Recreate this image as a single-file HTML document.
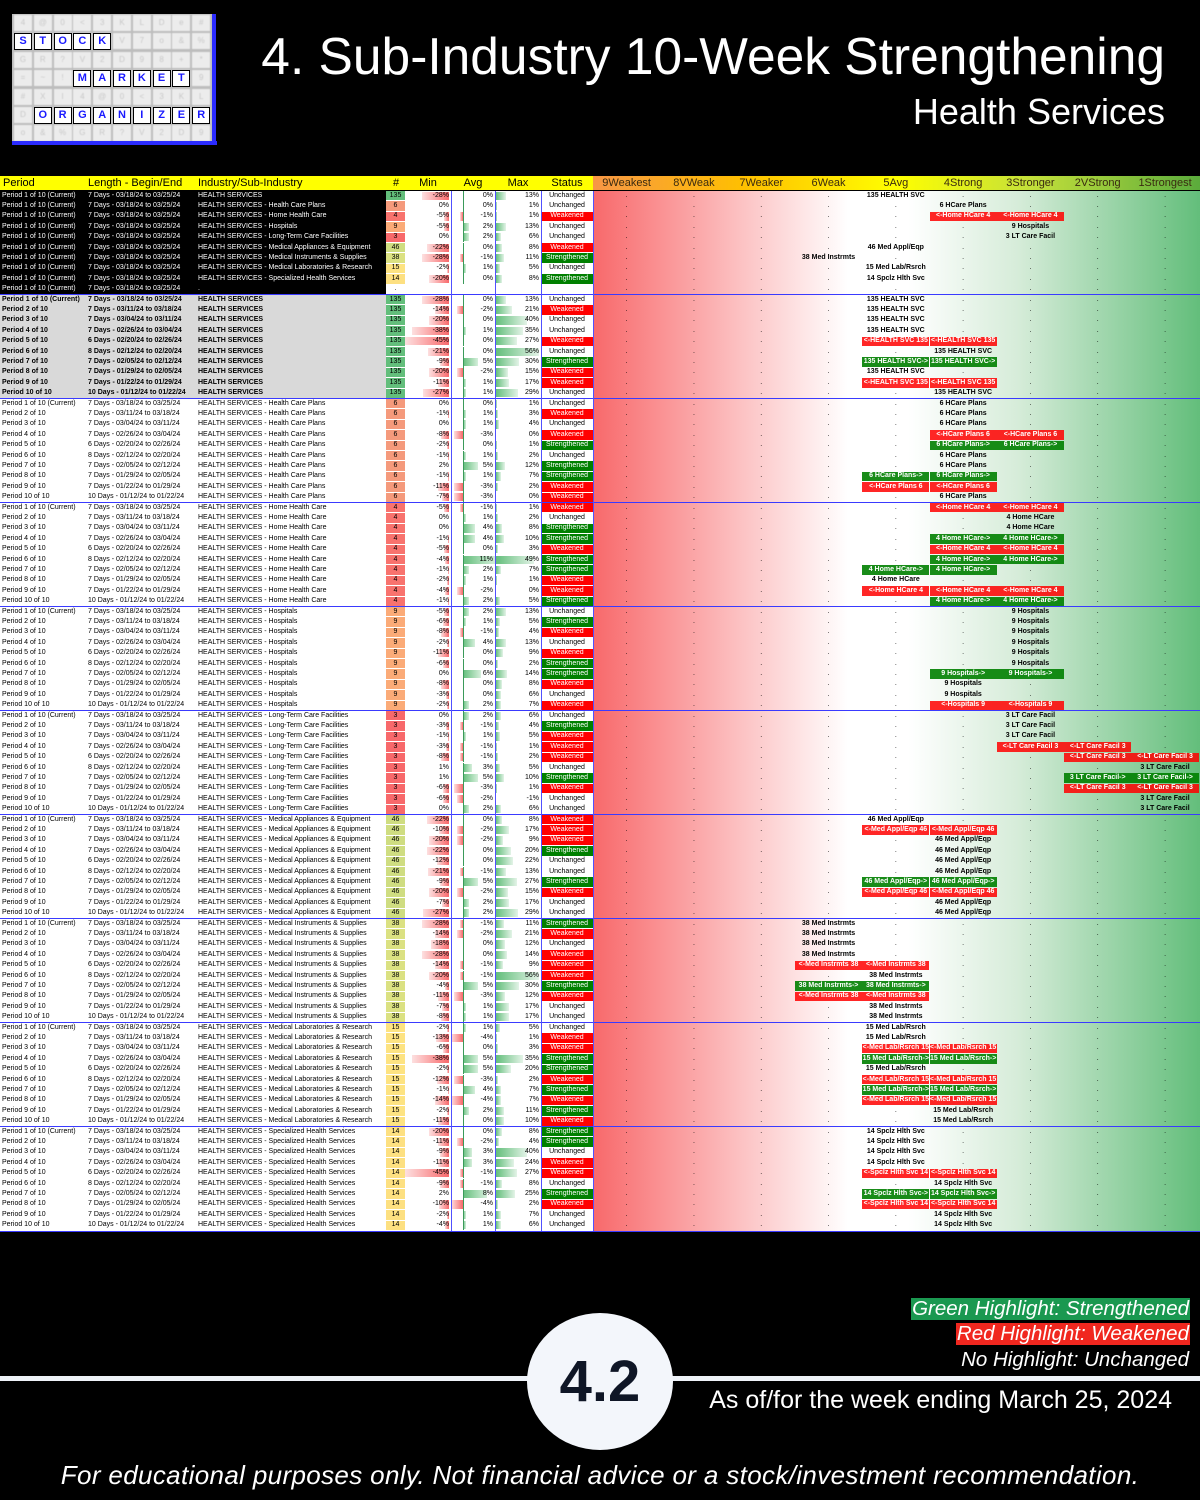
<!DOCTYPE html>
<html><head><meta charset="utf-8">
<style>
html,body{margin:0;padding:0;background:#000;}
#page{position:relative;width:1200px;height:1500px;background:#000;overflow:hidden;font-family:"Liberation Sans",sans-serif;}
.abs{position:absolute;}
.t{position:absolute;font-size:7px;line-height:10.4px;white-space:nowrap;}
.hd{position:absolute;font-size:11px;line-height:14px;white-space:nowrap;color:#000;}
.logo-cell{position:absolute;width:18px;height:16px;background:#ececec;color:#c8c8c8;font-size:8px;text-align:center;line-height:16px;filter:blur(0.6px);}
.lw{position:absolute;width:16px;height:15px;background:#fff;border:1px solid #000;color:#1a1aff;font-weight:bold;font-size:11px;text-align:center;line-height:15px;}
</style></head>
<body>
<div id="page">
  <div id="logo" class="abs" style="left:12px;top:14px;width:200px;height:130px;background:#bdbdbd;"></div>
  <div class="abs" style="left:212px;top:14px;width:4px;height:131px;background:#2b2bff;"></div>
  <div class="abs" style="left:12px;top:141px;width:205px;height:4px;background:#2b2bff;"></div>
  <div class="abs" style="right:35px;top:26px;color:#fff;font-size:51.5px;line-height:60px;white-space:nowrap;">4. Sub-Industry 10-Week Strengthening</div>
  <div class="abs" style="right:35px;top:91px;color:#fff;font-size:36px;line-height:42px;white-space:nowrap;">Health Services</div>
  <div id="table" class="abs" style="left:0;top:175px;width:1200px;height:1060px;"></div>
  <div class="abs" style="right:10px;top:1298px;background:#1a9850;color:#fff;font-style:italic;font-size:20.5px;line-height:22px;padding:0 1px;">Green Highlight: Strengthened</div>
  <div class="abs" style="right:10px;top:1323px;background:#f0271f;color:#fff;font-style:italic;font-size:20.5px;line-height:22px;padding:0 1px;">Red Highlight: Weakened</div>
  <div class="abs" style="right:10px;top:1349px;color:#fff;font-style:italic;font-size:20.5px;line-height:22px;padding:0 1px;">No Highlight: Unchanged</div>
  <div class="abs" style="left:0;top:1376px;width:1200px;height:5px;background:#eef2f8;"></div>
  <div class="abs" style="left:527px;top:1313px;width:146px;height:137px;border-radius:50%;background:#f3f6fb;text-align:center;line-height:137px;font-size:58px;font-weight:bold;color:#0f1626;">4.2</div>
  <div class="abs" style="right:28px;top:1385px;color:#fff;font-size:25px;line-height:30px;white-space:nowrap;">As of/for the week ending March 25, 2024</div>
  <div class="abs" style="left:0;width:1200px;top:1459px;text-align:center;color:#fff;font-style:italic;font-size:26px;letter-spacing:0.35px;line-height:32px;white-space:nowrap;">For educational purposes only. Not financial advice or a stock/investment recommendation.</div>
</div>
<script>
// ---- data ----
const periodLabels = ["Period 1 of 10 (Current)","Period 2 of 10","Period 3 of 10","Period 4 of 10","Period 5 of 10","Period 6 of 10","Period 7 of 10","Period 8 of 10","Period 9 of 10","Period 10 of 10"];
const lengthLabels = ["7 Days - 03/18/24 to 03/25/24","7 Days - 03/11/24 to 03/18/24","7 Days - 03/04/24 to 03/11/24","7 Days - 02/26/24 to 03/04/24","6 Days - 02/20/24 to 02/26/24","8 Days - 02/12/24 to 02/20/24","7 Days - 02/05/24 to 02/12/24","7 Days - 01/29/24 to 02/05/24","7 Days - 01/22/24 to 01/29/24","10 Days - 01/12/24 to 01/22/24"];
const industryNames = ["HEALTH SERVICES","HEALTH SERVICES - Health Care Plans","HEALTH SERVICES - Home Health Care","HEALTH SERVICES - Hospitals","HEALTH SERVICES - Long-Term Care Facilities","HEALTH SERVICES - Medical Appliances & Equipment","HEALTH SERVICES - Medical Instruments & Supplies","HEALTH SERVICES - Medical Laboratories & Research","HEALTH SERVICES - Specialized Health Services"];
const shortNames = ["HEALTH SVC","HCare Plans","Home HCare","Hospitals","LT Care Facil","Med Appl/Eqp","Med Instrmts","Med Lab/Rsrch","Spclz Hlth Svc"];
const counts = [135,6,4,9,3,46,38,15,14];
const countColors = ["#63be7b","#f59a7c","#f8736e","#fbab78","#f8696b","#cfdd81","#dbe182","#fde382","#fde081"];
const ratingHeaders = ["9Weakest","8VWeak","7Weaker","6Weak","5Avg","4Strong","3Stronger","2VStrong","1Strongest"];
const mins = [-28,0,-5,-5,0,-22,-28,-2,-20,null,
 -28,-14,-20,-38,-45,-21,-9,-20,-11,-27,
 0,-1,0,-8,-2,-1,2,-1,-11,-7,
 -5,0,0,-1,-5,-4,-1,-2,-4,-1,
 -5,-6,-8,-2,-11,-6,0,-8,-3,-2,
 0,-3,-1,-3,-8,1,1,-6,-6,0,
 -22,-10,-20,-22,-12,-21,-9,-20,-7,-27,
 -28,-14,-18,-28,-14,-20,-4,-11,-7,-8,
 -2,-13,-6,-38,-2,-12,-1,-14,-2,-11,
 -20,-11,-9,-11,-45,-9,2,-10,-2,-4];
const avgs = [0,0,-1,2,2,0,-1,1,0,null,
 0,-2,0,1,0,0,5,-2,1,1,
 0,1,1,-3,0,1,5,1,-3,-3,
 -1,1,4,4,0,11,2,1,-2,2,
 2,1,-1,4,0,0,6,0,0,2,
 2,-1,1,-1,-1,3,5,-3,-2,2,
 0,-2,-2,0,0,-1,5,-2,2,2,
 -1,-2,0,0,-1,-1,5,-3,1,1,
 1,-4,0,5,5,-3,4,-4,2,0,
 0,-2,3,3,-1,-1,8,-4,1,1];
const maxs = [13,1,1,13,6,8,11,5,8,null,
 13,21,40,35,27,56,30,15,17,29,
 1,3,4,0,1,2,12,7,2,0,
 1,2,8,10,3,49,7,1,0,5,
 13,5,4,13,9,2,14,8,6,7,
 6,4,5,1,2,5,10,1,-1,6,
 8,17,9,20,22,13,27,15,17,29,
 11,21,12,14,9,56,30,12,17,17,
 5,1,3,35,20,2,7,7,11,10,
 8,4,40,24,27,8,25,2,7,6];
const statuses = ["U","U","W","U","U","W","S","U","S","",
 "U","W","U","U","W","U","S","W","W","U",
 "U","W","U","W","S","U","S","S","W","W",
 "W","U","S","S","W","S","S","W","W","S",
 "U","S","W","U","W","S","S","W","U","W",
 "U","S","W","W","W","U","S","W","U","U",
 "W","W","W","S","U","U","S","W","U","U",
 "S","W","U","W","W","W","S","W","U","U",
 "U","W","W","S","S","W","S","W","S","W",
 "S","S","U","W","W","U","S","W","U","U"];
const rFrom = [4,5,5,6,6,4,3,4,4,-1,
 4,4,4,4,4,5,4,4,4,5,
 5,5,5,5,5,5,5,4,4,5,
 5,6,6,5,5,5,4,4,4,5,
 6,6,6,6,6,6,5,5,5,5,
 6,6,6,6,7,8,7,7,8,8,
 4,4,5,5,5,5,4,4,5,5,
 3,3,3,3,3,4,3,3,4,4,
 4,4,4,4,4,4,4,4,5,5,
 4,4,4,4,4,5,4,4,5,5];
const rTo = [4,5,6,6,6,4,3,4,4,-1,
 4,4,4,4,5,5,5,4,5,5,
 5,5,5,6,6,5,5,5,5,5,
 6,6,6,6,6,6,5,4,6,6,
 6,6,6,6,6,6,6,5,5,6,
 6,6,6,7,8,8,8,8,8,8,
 4,5,5,5,5,5,5,5,5,5,
 3,3,3,3,4,4,4,4,4,4,
 4,4,5,5,4,5,5,5,5,5,
 4,4,4,4,5,5,5,5,5,5];

// ---- layout ----
const tbl = document.getElementById('table');
const ROW0 = 15.5, RH = 10.4, GX = 593, CW = 67.3;
function box(l,t,w,h,bg){const d=document.createElement('div');d.className='abs';d.style.cssText=`left:${l}px;top:${t}px;width:${w}px;height:${h}px;background:${bg};`;tbl.appendChild(d);return d;}
function txt(s,l,t,w,align,color,extra){const d=document.createElement('div');d.className='t';d.textContent=s;d.style.cssText+=`left:${l}px;top:${t}px;width:${w}px;text-align:${align};color:${color};${extra||''}`;tbl.appendChild(d);return d;}

(function(){
  const lg=document.getElementById('logo');
  const ch="4@0<3KLDe#~=-SMV7o&%GR?V2D98+*=~!M*q3>89#XI";
  for(let r=0;r<7;r++)for(let c=0;c<10;c++){const d=document.createElement('div');d.className='logo-cell';d.style.left=(2+c*19.8)+'px';d.style.top=(1+r*18.4)+'px';d.textContent=ch[(r*10+c)%ch.length];lg.appendChild(d);}
  const words=[["STOCK",1,0],["MARKET",3,3],["ORGANIZER",5,1]];
  words.forEach(w=>{for(let i=0;i<w[0].length;i++){const d=document.createElement('div');d.className='lw';d.style.left=(2+(w[2]+i)*19.8)+'px';d.style.top=(1+w[1]*18.4)+'px';d.textContent=w[0][i];
    
    
    lg.appendChild(d);}});
})();

const hdrL = box(0,1,GX,14,'#ffff00');


const hdrR = box(GX,1,1200-GX,14,'linear-gradient(90deg,#f79646 0%,#ffc000 25%,#ffff00 50%,#c4e03a 72%,#5bab3c 100%)');


const grid = box(GX,ROW0,1200-GX,100*RH,'linear-gradient(90deg,#f8696b 0%,#fcc4c5 25%,#fff 42%,#fff 52%,#d6ecd9 70%,#63be7b 100%)');


box(0,ROW0,GX,100*RH,'#fff');
box(0,ROW0,386,10*RH,'#000');
box(0,ROW0+10*RH,386,10*RH,'#d9d9d9');

const hdrs=[["Period",3,'left'],["Length - Begin/End",88,'left'],["Industry/Sub-Industry",198,'left']];
hdrs.forEach(h=>{const d=document.createElement('div');d.className='hd';d.textContent=h[0];d.style.left=h[1]+'px';d.style.top='1px';
  
  
  tbl.appendChild(d);});
[["#",386,20],["Min",405,46],["Avg",451,44],["Max",495,46],["Status",541,52]].forEach(h=>{const d=document.createElement('div');d.className='hd';d.textContent=h[0];d.style.left=h[1]+'px';d.style.width=h[2]+'px';d.style.textAlign='center';d.style.top='1px';
  
  
  tbl.appendChild(d);});
ratingHeaders.forEach((h,i)=>{const d=document.createElement('div');d.className='hd';d.textContent=h;d.style.left=(GX+i*CW)+'px';d.style.width=CW+'px';d.style.textAlign='center';d.style.top='1px';d.style.color='#3a2a10';
  
  
  tbl.appendChild(d);});

const minScale = v => Math.abs(v)/45*44;
const avgX = v => 463 + v*3;
const maxScale = v => Math.max(0,v)/56*43;

for(let i=0;i<100;i++){
  const y = ROW0 + i*RH;
  let p, s;
  if(i<10){p=0;s=i;} else {s=Math.floor((i-10)/10);p=(i-10)%10;}
  const blank = (i===9);
  const tc = i<10 ? '#fff' : '#000';
  const bold = (i>=10 && i<20) ? 'font-weight:bold;' : '';
  txt(periodLabels[p],2,y,85,'left',tc,bold);
  txt(lengthLabels[p],88,y,110,'left',tc,bold);
  txt(blank?'.':industryNames[s],198,y,188,'left',tc,bold);
  if(!blank){
    const cc = box(386,y+0.5,19,RH-1,countColors[s]);
    
    
    txt(String(counts[s]),386,y,19,'center','#000');
    const mw = minScale(mins[i]);
    if(mins[i]<0){const b=box(449-mw,y+1,mw,RH-2,'linear-gradient(90deg,#fde0e0,#f8696b)');
      
      }
    txt(mins[i]+'%',405,y,44,'right','#000');
    const a0=avgX(0), a1=avgX(avgs[i]);
    if(avgs[i]!==0){const b=box(Math.min(a0,a1),y+1,Math.abs(a1-a0),RH-2,avgs[i]>0?'linear-gradient(90deg,#63be7b,#d6efdc)':'linear-gradient(90deg,#fde0e0,#f8696b)');
      
      }
    box(a0,y,0.6,RH,'#3a9a5a');
    txt(avgs[i]+'%',451,y,42,'right','#000');
    const xw=maxScale(maxs[i]);
    if(xw>0){const b=box(496,y+1,xw,RH-2,'linear-gradient(90deg,#63be7b,#e3f3e7)');
      
      }
    txt(maxs[i]+'%',495,y,44,'right','#000');
    const st=statuses[i];
    const stLabel = st==='W'?'Weakened':st==='S'?'Strengthened':'Unchanged';
    if(st!=='U'){const b=box(542,y+0.5,51,RH-1,st==='W'?'#ff0000':'#008000');
      
      }
    const sd=txt(stLabel,541,y,52,'center',st==='U'?'#000':'#fff');
    
    
  } else {
    txt('.',386,y,19,'center','#000');
  }
  const f=rFrom[i], t=rTo[i];
  for(let c=0;c<9;c++){
    const cx = GX + c*CW;
    if(!blank && c>=f && c<=t){
      const nm=shortNames[s], n=counts[s];
      if(f!==t){
        const st=statuses[i];
        const lab = st==='W' ? ('<-'+nm+' '+n) : (n+' '+nm+'->');
        const b=box(cx,y+0.5,CW,RH-1,st==='W'?'rgba(255,0,0,0.85)':'rgba(0,128,0,0.9)');
        
        
        txt(lab,cx,y,CW,'center','#fff','font-weight:bold;');
      } else {
        const d=txt(n+' '+nm,cx,y,CW,'center','#000','font-weight:bold;');
        
        
      }
    } else {
      txt('.',cx,y,CW,'center','#000');
    }
  }
}
for(let k=1;k<10;k++){const l=box(0,ROW0+k*10*RH-0.5,1200,1.2,'#3a3aff');
  
  }
[451,495,541,593].forEach(x=>{box(x,ROW0,1,100*RH,'#5050ff');});
box(0,ROW0+100*RH,1200,1,'#3a3aff');
</script>
</body></html>
